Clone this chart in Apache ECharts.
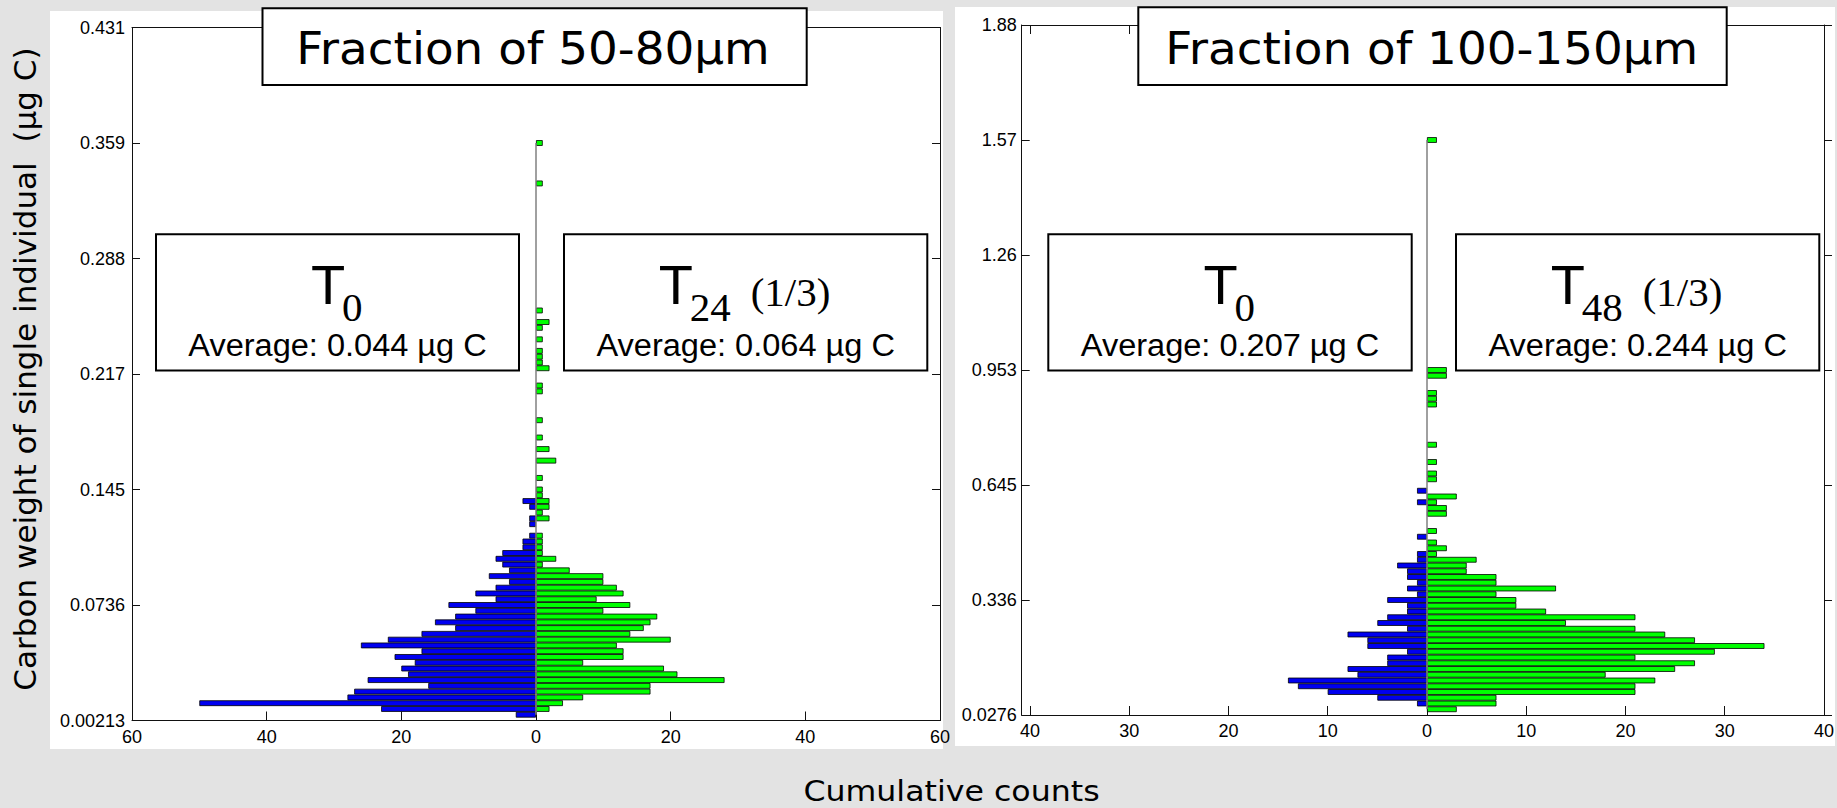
<!DOCTYPE html>
<html>
<head>
<meta charset="utf-8">
<script src="https://cdn.jsdelivr.net/npm/echarts@6/dist/echarts.min.js"></script>
<style>
html,body{margin:0;padding:0;background:#e3e3e3;}
#c{width:1837px;height:808px;}
</style>
</head>
<body>
<div id="c"></div>
<script>
// ---------------- data ----------------
// y tick labels (carbon weight, µg C), six equal divisions of each panel's y range
const yTicksA = ['0.00213','0.0736','0.145','0.217','0.288','0.359','0.431'];
const yTicksB = ['0.0276','0.336','0.645','0.953','1.26','1.57','1.88'];
// x ticks (cumulative counts, shown as absolute values)
const xTicksA = [-60,-40,-20,0,20,40,60];
const xTicksB = [-40,-30,-20,-10,0,10,20,30,40];

// Histogram counts per bin, bins 1..100 from lowest weight upward (shared bins inside a panel)
// Panel A: Fraction of 50-80µm
const countsA_T0 = [3,23,50,28,27,16,25,19,20,18, 21,17,26,22,17,12,15,12,9,13,
                    6,9,6,4,7,4,5,6,5,2, 2,1,0,1,1,0,1,2];
const countsA_T24 = [0,2,4,7,17,17,28,21,19,7, 13,13,12,20,14,16,17,18,10,14,
                     9,13,12,10,10,5,1,3,1,1, 1,1,0,0,2,1,2,2,1,1,
                     0,1,0,0,3,0,2,0,1,0, 0,1,0,0,0,0,1,1,0,0,
                     2,1,1,1,0,1,0,1,2,0, 1,0,0,0,0,0,0,0,0,0,
                     0,0,0,0,0,0,0,0,0,0, 0,0,1,0,0,0,0,0,0,1];
// Panel B: Fraction of 100-150µm
const countsB_T0 = [0,1,5,10,13,14,7,8,4,4, 2,6,6,8,2,5,4,2,2,4,
                    1,2,1,2,2,3,1,1,0,0, 1,0,0,0,0,0,1,0,1];
const countsB_T48 = [3,7,7,21,21,23,18,25,27,21, 29,34,27,24,21,14,21,12,9,9,
                     7,13,7,7,4,4,5,1,2,1, 0,1,0,0,2,2,1,3,0,0,
                     1,1,0,1,0,0,1,0,0,0, 0,0,0,1,1,1,0,0,2,2,
                     0,0,0,0,0,0,0,0,0,0, 0,0,0,0,0,0,0,0,0,0,
                     0,0,0,0,0,0,0,0,0,0, 0,0,0,0,0,0,0,0,0,1];

const titles = ['Fraction of 50-80\u00B5m', 'Fraction of 100-150\u00B5m'];
const averages = ['Average: 0.044 \u00B5g C','Average: 0.064 \u00B5g C','Average: 0.207 \u00B5g C','Average: 0.244 \u00B5g C'];
const subs = ['0','24','0','48'];

// ---------------- layout / style ----------------
const SLOTS = 120, SLOTS_PER_TICK = 20;   // y slots: tick every 20 slots, bins occupy slots 1..100
const cats = Array.from({length: SLOTS + 1}, (_, i) => String(i));
const BLUE = '#0000f0', GREEN = '#00ff00';
const SANS = '"Liberation Sans", Arial, sans-serif';
const SERIF = '"Liberation Serif", "Times New Roman", serif';
const DEJ = '"DejaVu Sans", Verdana, sans-serif';

function toSlots(counts, sign) {
  return cats.map((c, i) => (i >= 1 && i <= counts.length && counts[i - 1]) ? sign * counts[i - 1] : '-');
}

const grids = [
  {left: 132, top: 27.5, width: 808, height: 693},
  {left: 1021.7, top: 25, width: 805, height: 690}
];
const xRanges = [[-60, 60], [-40.83, 40]];

function xAxes(gi) {
  const base = {
    type: 'value', gridIndex: gi, min: xRanges[gi][0], max: xRanges[gi][1],
    splitLine: {show: false},
    axisLine: {show: true, onZero: false, lineStyle: {color: '#111', width: 1}},
  };
  const ticks = gi === 0 ? xTicksA : xTicksB;
  const tick = {show: true, inside: true, length: 9, lineStyle: {color: '#111'}, customValues: ticks};
  const lab = {show: true, color: '#000', fontSize: 18, fontFamily: SANS, margin: 7,
               customValues: ticks, formatter: v => String(Math.abs(Math.round(v)))};
  return [
    Object.assign({}, base, {position: 'bottom', axisTick: tick, axisLabel: lab}),
    Object.assign({}, base, {position: 'top', axisTick: tick, axisLabel: {show: false}})
  ];
}
function yAxes(gi) {
  const labels = gi === 0 ? yTicksA : yTicksB;
  const every = (i) => i % SLOTS_PER_TICK === 0;
  const base = {
    type: 'category', gridIndex: gi, data: cats, boundaryGap: false,
    axisLine: {show: true, onZero: false, lineStyle: {color: '#111', width: 1}},
    axisTick: {show: true, inside: true, length: 8, interval: every, lineStyle: {color: '#111'}},
    splitLine: {show: false}
  };
  return [
    Object.assign({}, base, {position: 'left',
      axisLabel: {show: true, interval: every, color: '#000', fontSize: 18, fontFamily: SANS,
                  margin: gi === 0 ? 7 : 5, formatter: (v, i) => labels[Math.round(i / SLOTS_PER_TICK)]}}),
    Object.assign({}, base, {position: 'right', axisLabel: {show: false},
      axisTick: {show: true, inside: gi === 0, length: 8, interval: every, lineStyle: {color: '#111'}}})
  ];
}

function barSeries(xi, yi, data, color, withBase) {
  const s = {
    type: 'bar', xAxisIndex: xi, yAxisIndex: yi, data: data,
    barWidth: '100%', barGap: '-100%', barCategoryGap: 0,
    itemStyle: {color: color, borderColor: '#000', borderWidth: 0.8},
    silent: true, animation: false
  };
  if (withBase) {
    s.markLine = {silent: true, symbol: ['none', 'none'], label: {show: false},
      lineStyle: {color: '#808080', width: 1.5, type: 'solid'},
      data: [[{coord: [0, '1']}, {coord: [0, '100']}]]};
  }
  return s;
}

// ---------------- graphic annotations ----------------
function box(x1, y1, x2, y2) {
  return {type: 'rect', z: 100, shape: {x: x1, y: y1, width: x2 - x1, height: y2 - y1},
          style: {fill: '#fff', stroke: '#000', lineWidth: 2}};
}
function txt(x, y, text, font, align, opts) {
  return Object.assign({type: 'text', z: 101, x: x, y: y,
    style: {text: text, font: font, fill: '#000', align: align, verticalAlign: 'middle',
            textAlign: align, textVerticalAlign: 'middle'}}, opts || {});
}
const g = [];
// white figure areas
g.push({type: 'rect', z: -100, shape: {x: 50, y: 11, width: 893, height: 738}, style: {fill: '#fff'}});
g.push({type: 'rect', z: -100, shape: {x: 955, y: 7, width: 880, height: 739}, style: {fill: '#fff'}});
// title boxes
g.push(box(262.5, 8.3, 806.7, 85));
g.push(txt(533, 48.8, titles[0], '44px ' + DEJ, 'center', {scaleX: 1.065}));
g.push(box(1138.3, 7.3, 1726.7, 85));
g.push(txt(1431.7, 48.8, titles[1], '44px ' + DEJ, 'center', {scaleX: 1.065}));
// inner label boxes
const innerBoxes = [[156, 519], [564, 927.3], [1048.3, 1411.7], [1456, 1819.3]];
innerBoxes.forEach((b, k) => {
  g.push(box(b[0], 234.3, b[1], 370.5));
  const c = (b[0] + b[1]) / 2;
  const third = (k % 2 === 1);
  const left = third ? c - 86 : c - 25.5;
  g.push(txt(left - 1, 284.8, 'T', '56px ' + SANS, 'left'));
  g.push(txt(left + 30, 306.5, subs[k], '41px ' + SERIF, 'left'));
  if (third) g.push(txt(left + 91, 291.5, '(1/3)', '41px ' + SERIF, 'left'));
  g.push(txt(c, 344.8, averages[k], '31px ' + SANS, 'center', {scaleX: 1.05}));
});
// axis titles
g.push(txt(26, 369, 'Carbon weight of single individual  (\u00B5g C)', '30px ' + DEJ, 'center',
           {rotation: Math.PI / 2, scaleX: 1.035}));
g.push(txt(951.5, 791.5, 'Cumulative counts', '28px ' + DEJ, 'center', {scaleX: 1.13}));

// ---------------- chart ----------------
const chart = echarts.init(document.getElementById('c'), null, {renderer: 'svg', width: 1837, height: 808});
chart.setOption({
  animation: false,
  backgroundColor: 'transparent',
  grid: grids,
  xAxis: [].concat(xAxes(0), xAxes(1)),
  yAxis: [].concat(yAxes(0), yAxes(1)),
  series: [
    barSeries(0, 0, toSlots(countsA_T0, -1), BLUE, false),
    barSeries(0, 0, toSlots(countsA_T24, 1), GREEN, true),
    barSeries(2, 2, toSlots(countsB_T0, -1), BLUE, false),
    barSeries(2, 2, toSlots(countsB_T48, 1), GREEN, true)
  ],
  graphic: {elements: g}
});
</script>
</body>
</html>
